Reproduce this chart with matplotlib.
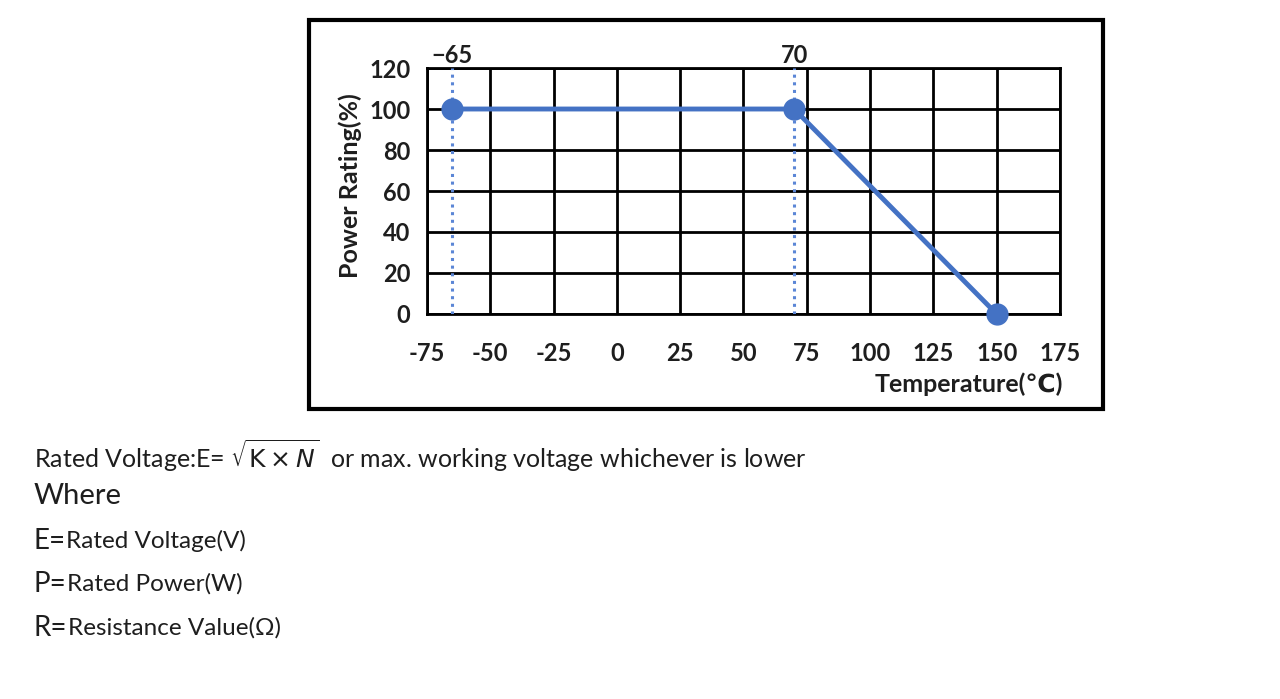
import matplotlib
matplotlib.use("Agg")
from matplotlib import pyplot as plt
from matplotlib.patches import Rectangle

plt.rcParams['font.family'] = ['Lato', 'DejaVu Sans']
plt.rcParams['axes.unicode_minus'] = False

# derating curve
temps = [-65, 70, 150]
rating = [100, 100, 0]
# dotted guide lines and their labels on the top edge
guide_temps = [-65, 70]
guide_labels = ["\u221265", "70"]
x_ticks = [-75, -50, -25, 0, 25, 50, 75, 100, 125, 150, 175]
y_ticks = [0, 20, 40, 60, 80, 100, 120]

blue = "#4472C4"
ink = "#1e1e1e"

fig = plt.figure(figsize=(12.8, 6.99), dpi=100)
ax = fig.add_axes([0.3336, 0.5508, 0.4945, 0.3519])

for t in guide_temps:
    ax.axvline(t, color="#5b86d6", linestyle=(0, (1, 1.5)), lw=2.2, zorder=3)
ax.plot(temps, rating, color=blue, lw=3.5, marker='o', markersize=15,
        clip_on=False, zorder=4)

ax.set_xlim(-75, 175)
ax.set_ylim(0, 120)
ax.set_xticks(x_ticks)
ax.set_yticks(y_ticks)
ax.grid(True, color='black', lw=2)
ax.tick_params(length=0, labelsize=17, labelcolor=ink)
ax.tick_params(axis='x', pad=20)
ax.tick_params(axis='y', pad=12)
for lab in ax.get_xticklabels() + ax.get_yticklabels():
    lab.set_fontweight('bold')
for s in ax.spines.values():
    s.set_linewidth(2)

# top labels for guide lines
top = ax.secondary_xaxis('top')
top.set_xticks(guide_temps, guide_labels)
top.tick_params(length=0, labelsize=17, labelcolor=ink, pad=1)
for lab in top.get_xticklabels():
    lab.set_fontweight('bold')
top.spines['top'].set_visible(False)

fig.text(350 / 1280, 1 - 186 / 699, "Power Rating(%)", rotation=90,
         ha='center', va='center', fontsize=18, fontweight='bold', color=ink)
fig.text(1063 / 1280, 1 - 384 / 699, "Temperature(\u2103)", ha='right',
         va='center', fontsize=18, fontweight='bold', color=ink)

# outer frame
fig.patches.append(Rectangle((309 / 1280, 1 - 409 / 699), 794 / 1280, 389 / 699,
                             transform=fig.transFigure, fill=False,
                             edgecolor='black', lw=3))

# notes under the chart
fig.text(34 / 1280, 1 - 456 / 699,
         r"Rated Voltage:E= $\sqrt{\mathrm{K}\times N}$  or max. working voltage whichever is lower",
         ha='left', va='center', fontsize=18, color=ink)
fig.text(34 / 1280, 1 - 496 / 699, "Where", ha='left', va='center',
         fontsize=21, color=ink)
notes = [("E=", "Rated Voltage(V)", 541),
         ("P=", "Rated Power(W)", 584),
         ("R=", "Resistance Value(\u03a9)", 628)]
for head, body, ypix in notes:
    t = fig.text(34 / 1280, 1 - ypix / 699, head, ha='left', va='center',
                 fontsize=20, color=ink)
    fig.canvas.draw()
    bb = t.get_window_extent()
    fig.text(bb.x1 / 1280, 1 - ypix / 699, body, ha='left', va='center',
             fontsize=17.5, color=ink)

fig.savefig("out.png", dpi=100)
